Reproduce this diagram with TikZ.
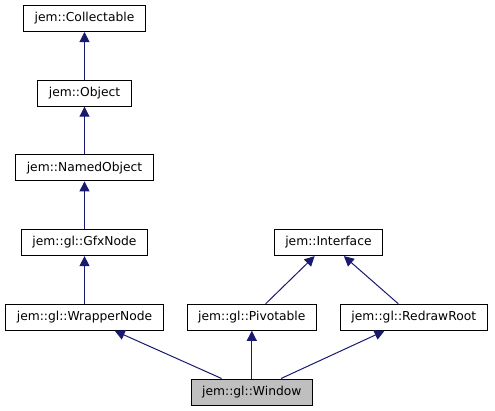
\documentclass[tikz,border=0pt]{standalone}
\usepackage{fontspec}
\setmainfont{DejaVu Sans}
\usetikzlibrary{arrows.meta, positioning}

\begin{document}
\begin{tikzpicture}[
    node distance=47.7bp and 23bp,
    every node/.style={font=\fontsize{12.3bp}{14bp}\selectfont},
    cls/.style={rectangle, draw=black, line width=1bp, fill=white, minimum height=26bp, inner xsep=11bp, inner ysep=0pt, align=center},
    current/.style={cls, fill=gray!50},
    arrow/.style={-{Triangle[length=10bp, width=10bp]}, line width=1bp, draw={rgb,255:red,25;green,25;blue,112}}
]
\useasboundingbox (0,0) rectangle (495bp,-411bp);

\node[cls] (collectable) at (84.5bp,-18.5bp) {jem::Collectable};
\node[cls, below=of collectable] (object) {jem::Object};
\node[cls, below=of object] (namedobject) {jem::NamedObject};
\node[cls, below=of namedobject] (gfxnode) {jem::gl::GfxNode};
\node[cls, below=of gfxnode] (wrappernode) {jem::gl::WrapperNode};
\node[cls, right=of wrappernode] (pivotable) {jem::gl::Pivotable};
\node[cls, right=of pivotable] (redrawroot) {jem::gl::RedrawRoot};
\path (pivotable) -- (redrawroot) coordinate[midway] (mid);
\node[cls] (interface) at (gfxnode -| mid) {jem::Interface};
\node[current, below=of pivotable] (window) {jem::gl::Window};

\foreach \src/\dst in {object/collectable, namedobject/object, gfxnode/namedobject, wrappernode/gfxnode, pivotable/interface, redrawroot/interface, window/wrappernode, window/pivotable, window/redrawroot} {
    \draw[arrow] (\src) -- (\dst);
}

\end{tikzpicture}
\end{document}
